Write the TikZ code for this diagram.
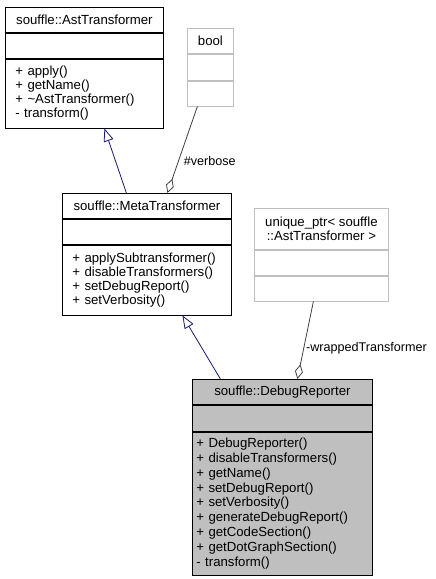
\documentclass[tikz,border=0pt]{standalone}
\usepackage{fontspec}
\setmainfont{Liberation Sans}
\usetikzlibrary{positioning,arrows.meta}
\definecolor{inheritblue}{RGB}{25,25,112}
\definecolor{lightrule}{RGB}{191,191,191}

\begin{document}
\begin{tikzpicture}[x=1pt,y=-1pt,
    cell/.style={draw, line width=0.8pt, inner sep=0pt, font=\fontsize{13.2}{14}\selectfont},
    typecell/.style={cell, draw=lightrule},
    edgelabel/.style={inner sep=1pt, font=\fontsize{12.6}{14}\selectfont},
    inherit/.style={draw=inheritblue, line width=0.8pt, -{Triangle[open,length=13pt,width=10pt]}},
    owns/.style={draw=black!75, line width=0.8pt, -{Diamond[open,length=15pt,width=8pt]}}]
      \useasboundingbox (0,0) rectangle (436,579);
      % souffle::AstTransformer
      \node[cell, minimum width=158, minimum height=25, anchor=north west] (astT) at (5,7) {souffle::AstTransformer};
      \node[cell, minimum width=158, minimum height=25, below=0pt of astT] (astE) {};
      \node[cell, minimum width=158, minimum height=69, below=0pt of astE, text width=138, align=left] (astM)
        {+ apply()\\+ getName()\\+ \textasciitilde AstTransformer()\\- transform()};
      % bool
      \node[typecell, minimum width=46, minimum height=25, anchor=north west] (boolT) at (187,28) {bool};
      \node[typecell, minimum width=46, minimum height=26, below=0pt of boolT] (boolE) {};
      \node[typecell, minimum width=46, minimum height=25, below=0pt of boolE] (boolM) {};
      % souffle::MetaTransformer
      \node[cell, minimum width=169, minimum height=25, anchor=north west] (metaT) at (62,193) {souffle::MetaTransformer};
      \node[cell, minimum width=169, minimum height=25, below=0pt of metaT] (metaE) {};
      \node[cell, minimum width=169, minimum height=70, below=0pt of metaE, text width=149, align=left] (metaM)
        {+ applySubtransformer()\\+ disableTransformers()\\+ setDebugReport()\\+ setVerbosity()};
      % unique_ptr
      \node[typecell, minimum width=134, minimum height=41, anchor=north west, align=center] (uniqT) at (254,208)
        {unique\_ptr< souffle\\::AstTransformer >};
      \node[typecell, minimum width=134, minimum height=25, below=0pt of uniqT] (uniqE) {};
      \node[typecell, minimum width=134, minimum height=25, below=0pt of uniqE] (uniqM) {};
      % souffle::DebugReporter
      \node[cell, fill=lightrule, minimum width=180, minimum height=25, anchor=north west] (debT) at (192,379) {souffle::DebugReporter};
      \node[cell, fill=lightrule, minimum width=180, minimum height=26, below=0pt of debT] (debE) {};
      \node[cell, fill=lightrule, minimum width=180, minimum height=143, below=0pt of debE, text width=172, align=left,
            font=\fontsize{13.2}{14.9}\selectfont] (debM)
        {+ DebugReporter()\\+ disableTransformers()\\+ getName()\\+ setDebugReport()\\+ setVerbosity()\\
         + generateDebugReport()\\+ getCodeSection()\\+ getDotGraphSection()\\- transform()};

      \draw[inherit] ([xshift=-20.5]metaT.north) -- ([xshift=20]astM.south);
      \draw[inherit] ([xshift=-62]debT.north) -- ([xshift=35.5]metaM.south);
      \draw[owns] ([xshift=-13]boolM.south) -- node[edgelabel, pos=0.63, right=4pt] (verb) {\#verbose} ([xshift=20.5]metaT.north);
      \draw[owns] ([xshift=-8]uniqM.south) -- node[edgelabel, pos=0.6, right=1pt] (wrap) {-wrappedTransformer} ([xshift=15]debT.north);
    \end{tikzpicture}
\end{document}
